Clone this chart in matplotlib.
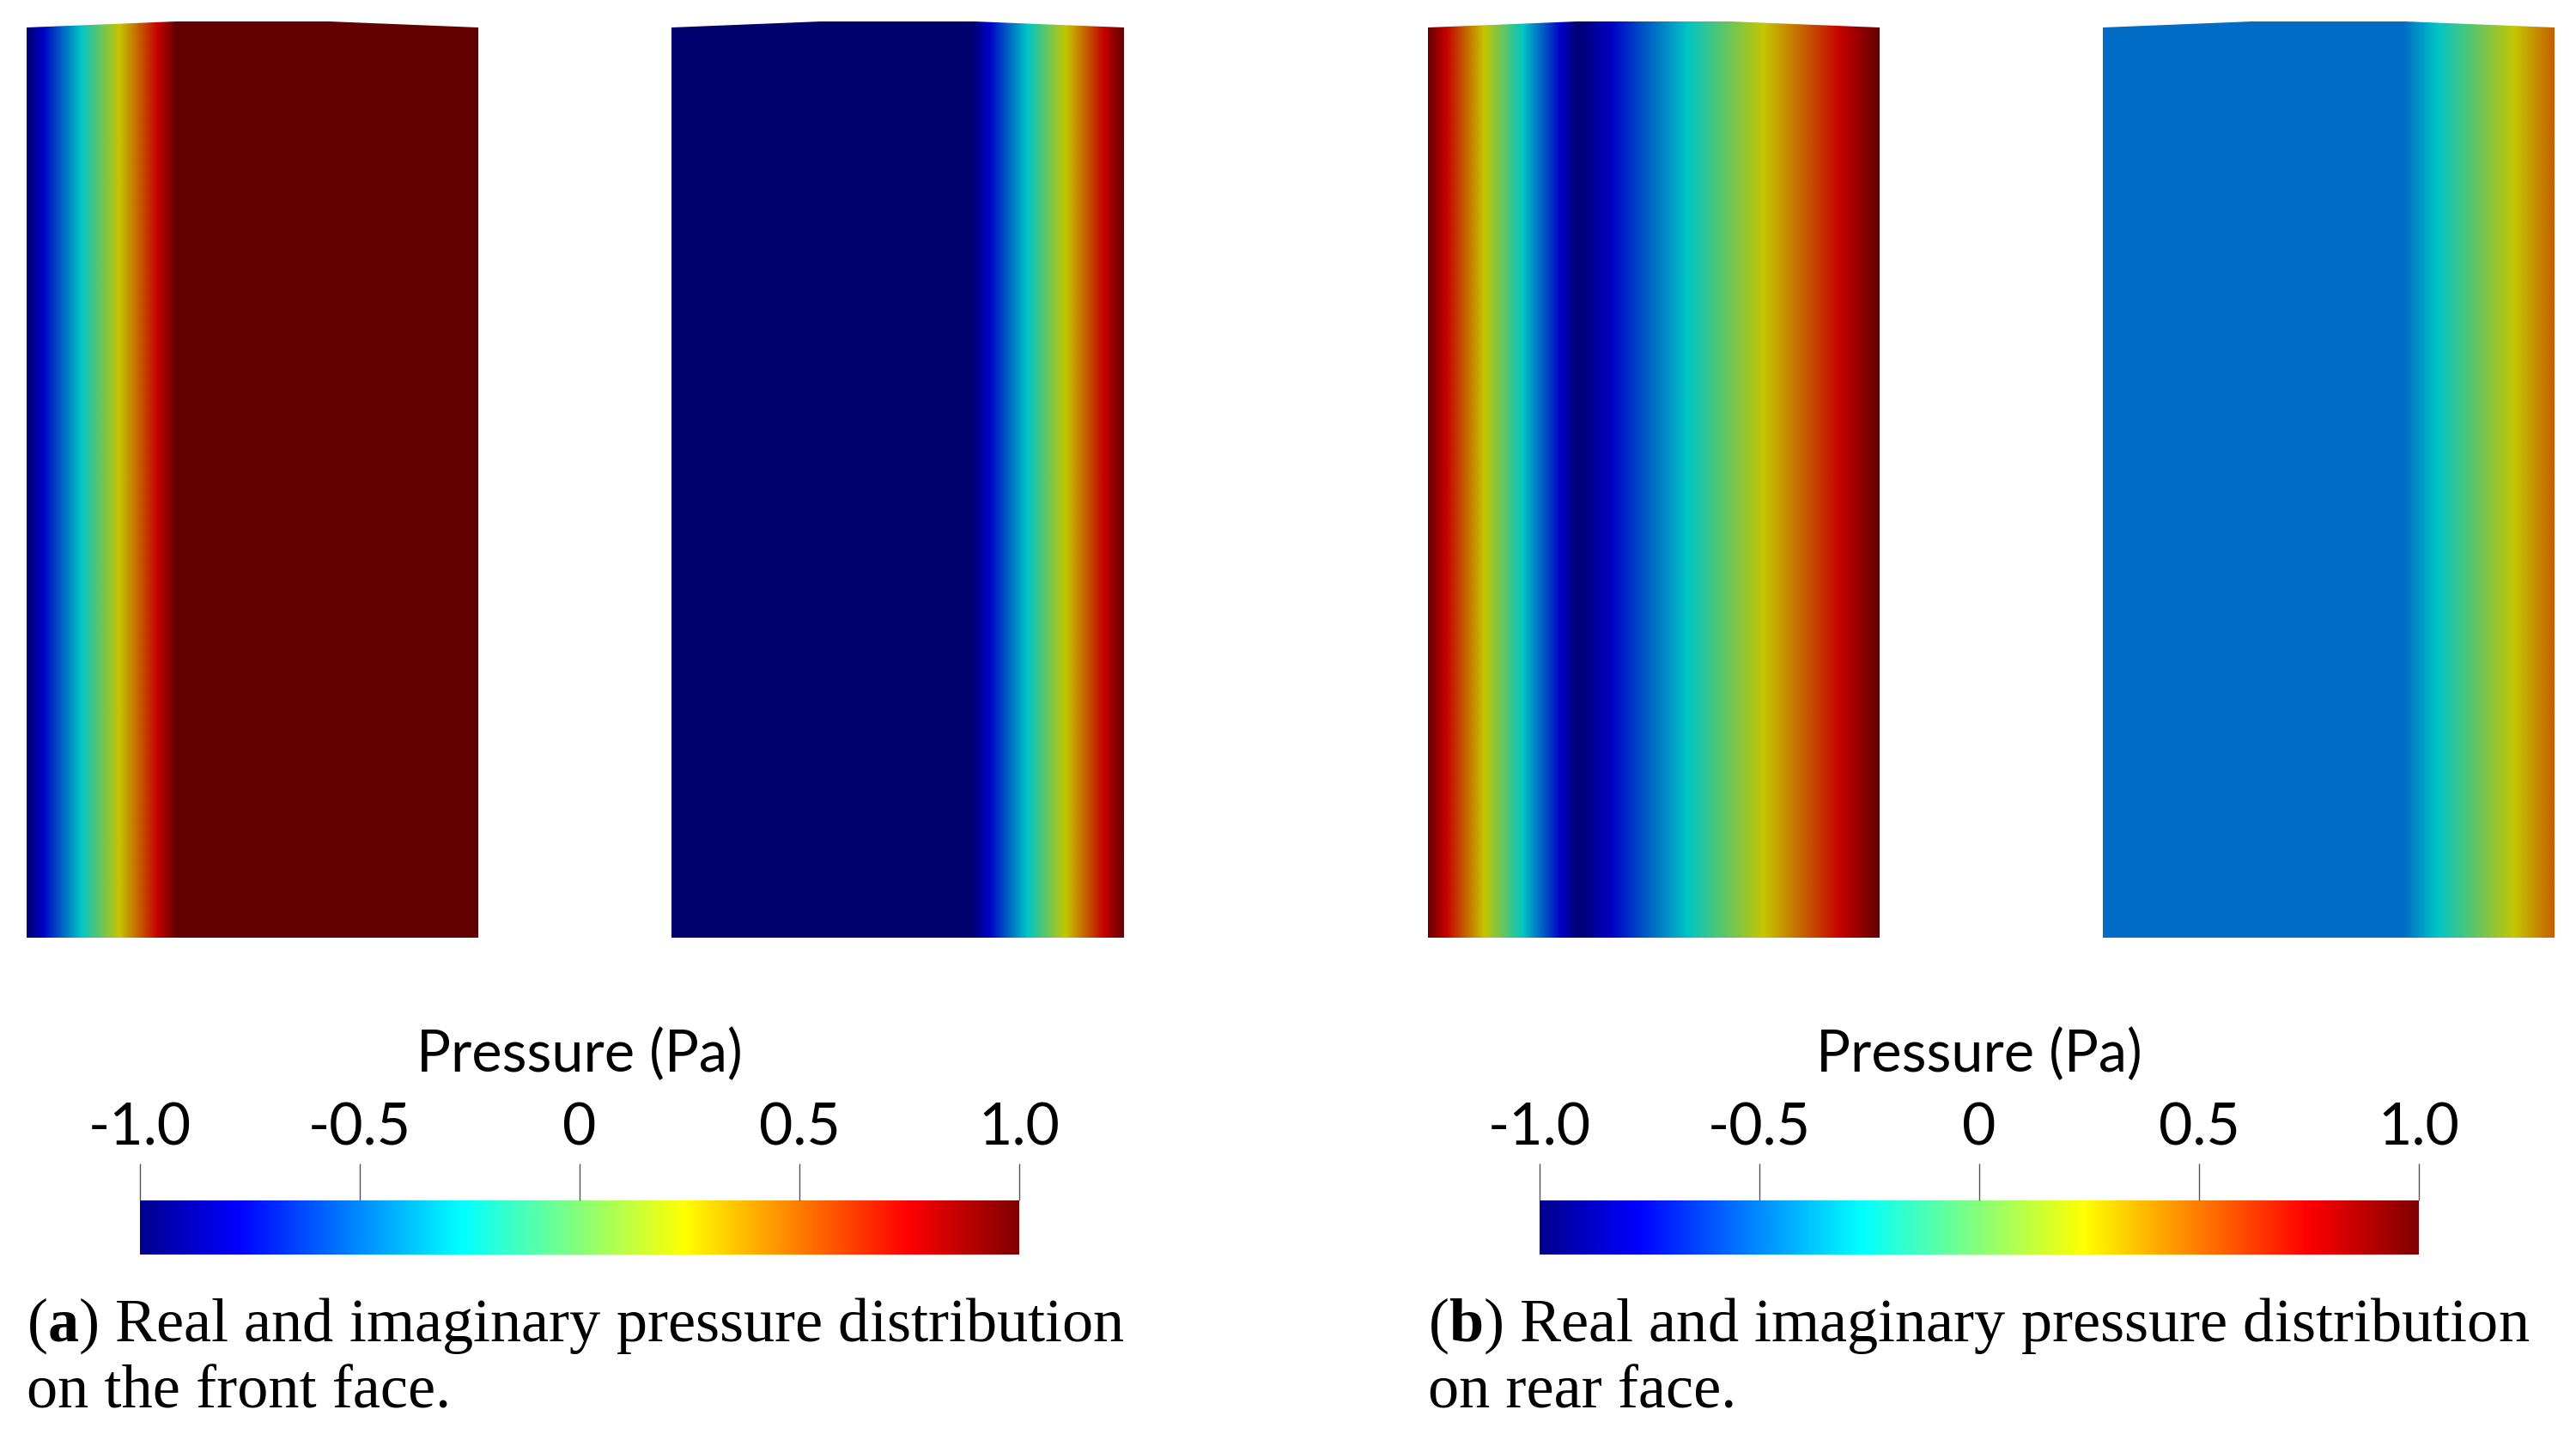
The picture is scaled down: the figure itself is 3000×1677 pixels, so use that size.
import numpy as np
import matplotlib
matplotlib.use('Agg')
import matplotlib.pyplot as plt
from matplotlib.colors import LinearSegmentedColormap, Normalize
from matplotlib.cm import ScalarMappable
from matplotlib.patches import Polygon

# pressure samples across each face, left edge to right edge (equally spaced)
front_real = [-1.0, 1.0, 1.0, 1.0]
front_imag = [-1.0, -1.0, -1.0, 1.0]
rear_real = [1.0, -1.0, 0.0, 1.0]
rear_imag = [-0.5, -0.5, -0.5, 0.5]

cbar_ticks = [-1.0, -0.5, 0.0, 0.5, 1.0]
cbar_ticklabels = ['-1.0', '-0.5', '0', '0.5', '1.0']
cbar_title = 'Pressure (Pa)'
captions = [('(' + r'$\mathbf{a}$' + ') Real and imaginary pressure distribution', 'on the front face.'),
            ('(' + r'$\mathbf{b}$' + ') Real and imaginary pressure distribution', 'on rear face.')]

W, H = 3000, 1677

plt.rcParams['mathtext.fontset'] = 'custom'
plt.rcParams['mathtext.rm'] = 'Liberation Serif'
plt.rcParams['mathtext.bf'] = 'Liberation Serif:bold'

# paraview style jet
nodes = [0.0, 0.1116, 0.3654, 0.4924, 0.6193, 0.8731, 1.0]
cols = [(0, 0, 0.5625), (0, 0, 1), (0, 1, 1), (0.5, 1, 0.5), (1, 1, 0), (1, 0, 0), (0.5, 0, 0)]
jet_pv = LinearSegmentedColormap.from_list('jet_pv', list(zip(nodes, cols)), N=512)
shade = 0.775
jet_shaded = LinearSegmentedColormap.from_list(
    'jet_shaded', [(n, tuple(c * shade for c in col)) for n, col in zip(nodes, cols)], N=512)
norm = Normalize(-1, 1)

fig = plt.figure(figsize=(W / 100, H / 100), dpi=100)
ax = fig.add_axes([0, 0, 1, 1])


def draw_face(values, x0, x1, top=25, corner=32, bottom=1092):
    w = x1 - x0
    step = w / (len(values) - 1)
    im = ax.imshow(np.array([values]), cmap=jet_shaded, norm=norm, aspect='auto',
                   interpolation='bilinear', interpolation_stage='data',
                   extent=[x0 - step / 2, x1 + step / 2, bottom, top])
    verts = [(x0, bottom), (x0, corner), (x0 + 0.33 * w, top), (x0 + 0.67 * w, top),
             (x1, corner), (x1, bottom)]
    poly = Polygon(verts, closed=True, transform=ax.transData)
    im.set_clip_path(poly)


draw_face(front_real, 31, 557)
draw_face(front_imag, 782, 1309)
draw_face(rear_real, 1663, 2189)
draw_face(rear_imag, 2449, 2975)

ax.set_xlim(0, W)
ax.set_ylim(H, 0)
ax.axis('off')


def draw_colorbar(x0, x1):
    cax = fig.add_axes([x0 / W, 1 - 1461 / H, (x1 - x0) / W, 63 / H])
    cb = fig.colorbar(ScalarMappable(norm=norm, cmap=jet_pv), cax=cax, orientation='horizontal')
    cb.outline.set_visible(False)
    cax.xaxis.set_ticks_position('top')
    cb.set_ticks(cbar_ticks)
    cb.set_ticklabels(cbar_ticklabels)
    cax.tick_params(axis='x', length=31, width=1.0, color='#555555', pad=7,
                    labelsize=49, labelfontfamily='Lato')
    ax.text((x0 + x1) / 2, 1248, cbar_title, ha='center', va='baseline',
            fontsize=48, family='Lato')


draw_colorbar(163, 1187)
draw_colorbar(1793, 2817)

for cx, (line1, line2) in zip([31, 1663], captions):
    ax.text(cx, 1562, line1, ha='left', va='baseline', fontsize=52, family='Liberation Serif')
    ax.text(cx, 1640, line2, ha='left', va='baseline', fontsize=52, family='Liberation Serif')

fig.savefig('out.png', dpi=100)
